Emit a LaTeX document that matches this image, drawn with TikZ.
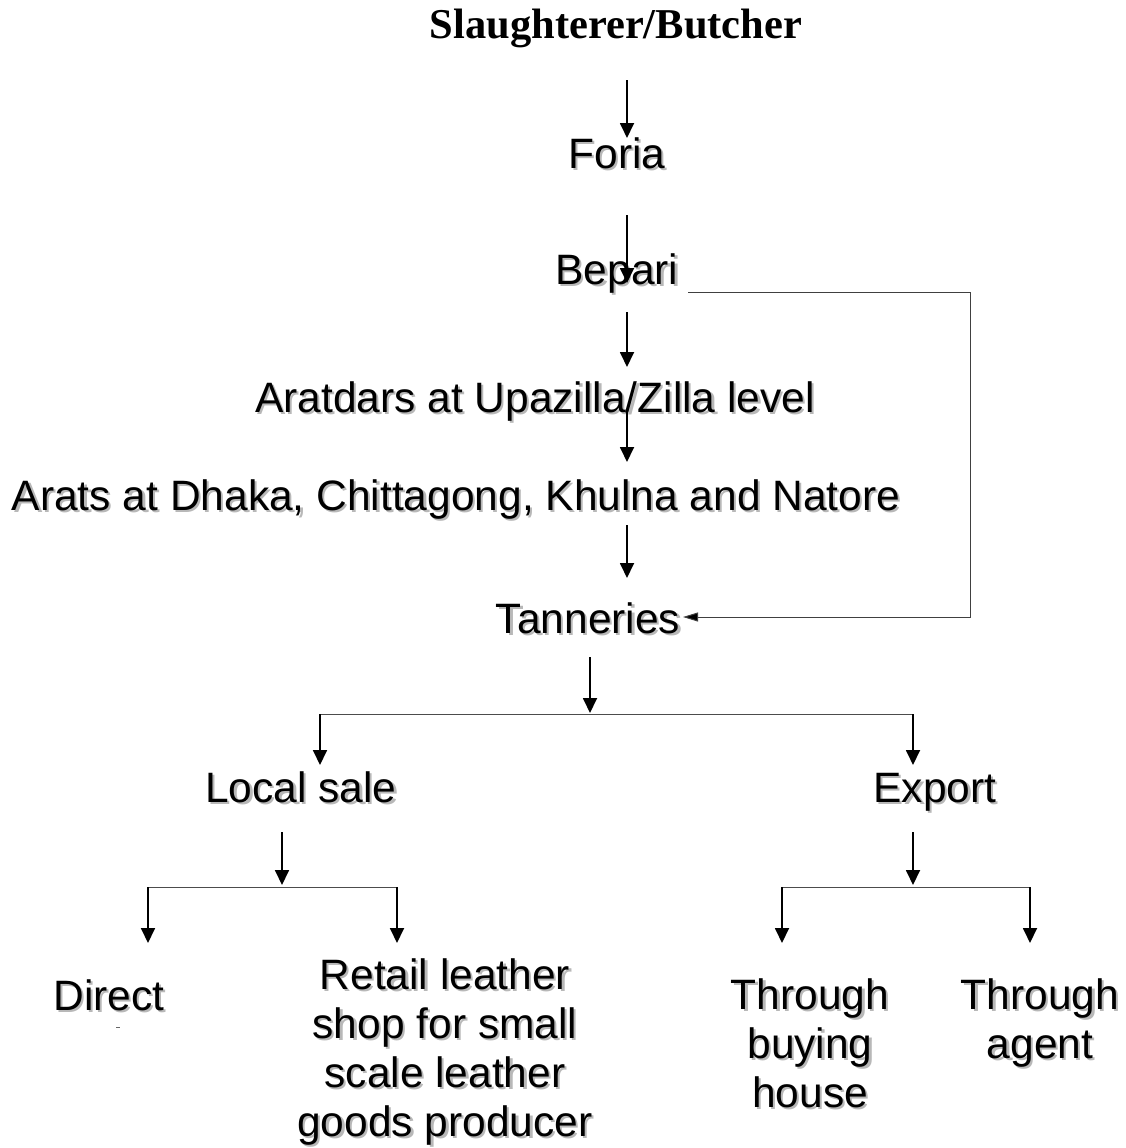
\documentclass[tikz,border=0pt]{standalone}
\usepackage{fontspec}
\setmainfont{Liberation Sans}
\newfontfamily\titlefont{Liberation Serif}
\usetikzlibrary{arrows.meta,calc}
\tikzset{
  txt/.style={inner sep=0pt, anchor=base, align=center, font=\fontsize{42.5}{49}\selectfont},
  ttl/.style={inner sep=0pt, anchor=base, font=\titlefont\bfseries\fontsize{42.5}{46}\selectfont},
  shade/.style={text=black!28},
  arr/.style={line width=1.8pt, -{Triangle[length=15pt,width=14pt]}},
  thinarr/.style={line width=1pt, draw=black!75, -{Triangle[length=15pt,width=9pt,fill=black]}},
  hline/.style={line width=1pt, draw=black!70},
}
\newcommand\lbl[3]{%
  \node[txt,shade] at ($(#2)+(2.2,2.2)$) {#3};
  \node[txt] (#1) at (#2) {#3};}
\begin{document}
\begin{tikzpicture}[x=1pt,y=-1pt]
\useasboundingbox (0,0) rectangle (1126,1148);
\fill[white] (0,0) rectangle (1126,1148);
% title
\node[ttl] (title) at (616,39) {Slaughterer/Butcher};
% label positions (baseline of last line)
\coordinate (pForia) at (617,168);
\coordinate (pBepari) at (617,284);
\coordinate (pArat1) at (535,412);
\coordinate (pArat2) at (456,510);
\coordinate (pTan) at (588,633);
\coordinate (pLocal) at (301,802);
\coordinate (pExport) at (935,802);
\coordinate (pDirect) at (109,1010);
\coordinate (pRetail) at (445,1136);
\coordinate (pBuying) at (810,1107);
\coordinate (pAgent) at (1040,1058);
\lbl{foria}{pForia}{Foria}
\lbl{bepari}{pBepari}{Bepari}
\lbl{aratdars}{pArat1}{Aratdars at Upazilla/Zilla level}
\lbl{arats}{pArat2}{Arats at Dhaka, Chittagong, Khulna and Natore}
\lbl{tanneries}{pTan}{Tanneries}
\lbl{local}{pLocal}{Local sale}
\lbl{export}{pExport}{Export}
\lbl{direct}{pDirect}{Direct}
\lbl{retail}{pRetail}{Retail leather\\shop for small\\scale leather\\goods producer}
\lbl{buying}{pBuying}{Through\\buying\\house}
\lbl{agent}{pAgent}{Through\\agent}
% connector coordinates
\coordinate (a1s) at (627,80);  \coordinate (a1e) at (627,138);
\coordinate (a2s) at (627,215); \coordinate (a2e) at (627,283);
\coordinate (a3s) at (627,312); \coordinate (a3e) at (627,367);
\coordinate (a4s) at (627,410); \coordinate (a4e) at (627,462);
\coordinate (a5s) at (627,525); \coordinate (a5e) at (627,578);
\coordinate (a6s) at (590,657); \coordinate (a6e) at (590,713);
\coordinate (bp1) at (688,292); \coordinate (bp2) at (970,292);
\coordinate (bp3) at (970,617); \coordinate (bp4) at (683,617);
\coordinate (tL) at (320,714); \coordinate (tR) at (913,714);
\coordinate (tLe) at (320,765); \coordinate (tRe) at (913,765);
\coordinate (lS) at (282,832); \coordinate (lE) at (282,885);
\coordinate (lL) at (148,887); \coordinate (lR) at (397,887);
\coordinate (lLe) at (148,943); \coordinate (lRe) at (397,943);
\coordinate (eS) at (913,832); \coordinate (eE) at (913,885);
\coordinate (eL) at (782,887); \coordinate (eR) at (1030,887);
\coordinate (eLe) at (782,943); \coordinate (eRe) at (1030,943);
\coordinate (m1) at (116,1027); \coordinate (m2) at (120,1027);
% connectors
\draw[arr] (a1s) -- (a1e);
\draw[arr] (a2s) -- (a2e);
\draw[arr] (a3s) -- (a3e);
\draw[arr] (a4s) -- (a4e);
\draw[arr] (a5s) -- (a5e);
\draw[thinarr] (bp1) -- (bp2) -- (bp3) -- (bp4);
\draw[arr] (a6s) -- (a6e);
\draw[hline] (tL) -- (tR);
\draw[arr] (tL) -- (tLe);
\draw[arr] (tR) -- (tRe);
\draw[arr] (lS) -- (lE);
\draw[hline] (lL) -- (lR);
\draw[arr] (lL) -- (lLe);
\draw[arr] (lR) -- (lRe);
\draw[arr] (eS) -- (eE);
\draw[hline] (eL) -- (eR);
\draw[arr] (eL) -- (eLe);
\draw[arr] (eR) -- (eRe);
\draw[line width=0.8pt, black!60] (m1) -- (m2);
\end{tikzpicture}
\end{document}
